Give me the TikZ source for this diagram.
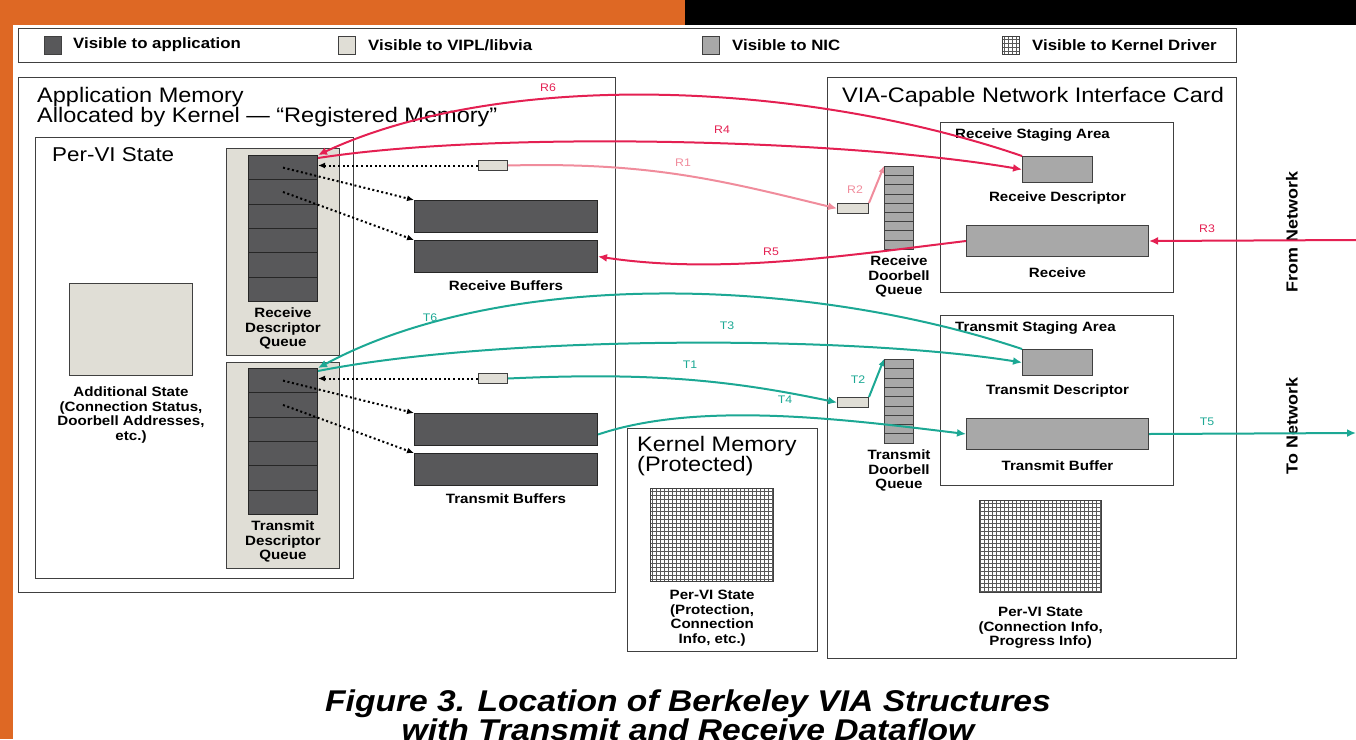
\documentclass[tikz,border=0pt]{standalone}
\usepackage{fontspec}
\setmainfont{Liberation Sans}[FakeStretch=1.12]
\usetikzlibrary{arrows.meta, positioning, patterns}
\definecolor{orng}{RGB}{222,104,36}
\definecolor{appgray}{RGB}{88,88,90}
\definecolor{viplgray}{RGB}{224,222,214}
\definecolor{nicgray}{RGB}{168,168,168}
\definecolor{rred}{RGB}{228,32,82}
\definecolor{rpink}{RGB}{240,140,156}
\definecolor{tteal}{RGB}{28,168,148}
\pgfdeclarepatternformonly{kgrid}{\pgfqpoint{-1pt}{-1pt}}{\pgfqpoint{5pt}{5pt}}{\pgfqpoint{4pt}{4pt}}{%
  \pgfsetlinewidth{0.9pt}%
  \pgfpathmoveto{\pgfqpoint{0pt}{0pt}}\pgfpathlineto{\pgfqpoint{0pt}{4pt}}%
  \pgfpathmoveto{\pgfqpoint{0pt}{0pt}}\pgfpathlineto{\pgfqpoint{4pt}{0pt}}%
  \pgfusepath{stroke}}

\begin{document}
\begin{tikzpicture}[x=1pt, y=-1pt,
  frame/.style={draw=black!75, line width=1.3pt, inner sep=0pt, anchor=north west},
  appbox/.style={frame, fill=appgray, draw=black!85, line width=1pt},
  viplbox/.style={frame, fill=viplgray, line width=1pt},
  nicbox/.style={frame, fill=nicgray, line width=1pt},
  kernbox/.style={frame, pattern=kgrid, pattern color=black!65},
  swatch/.style={draw=black!75, line width=1pt, minimum width=17pt, minimum height=18pt, inner sep=0pt},
  title/.style={font=\fontsize{21}{17}\selectfont, anchor=north west, align=left, inner sep=0pt},
  leg/.style={font=\bfseries\fontsize{15}{16}\selectfont, inner sep=0pt},
  lbl/.style={font=\bfseries\fontsize{13.5}{14.5}\selectfont, align=center, inner sep=0pt},
  tag/.style={font=\fontsize{11}{12}\selectfont, inner sep=1pt},
  flow/.style={line width=2pt, -{Latex[length=9pt,width=8pt]}},
  ptr/.style={line width=2pt, dash pattern=on 2pt off 2.6pt, -{Latex[length=7pt,width=6pt]}}]
\useasboundingbox (0,0) rectangle (1356,739);
\clip (0,0) rectangle (1356,739);
\fill[orng] (0,0) rectangle (685,25);
\fill[black] (685,0) rectangle (1356,25);
\fill[orng] (0,0) rectangle (13,739);

% legend
\node[frame, minimum width=1218pt, minimum height=34pt] (legend) at (18,28) {};
\node[swatch, fill=appgray] (kapp) at (53,45) {};
\node[leg, right=11pt of kapp] {Visible to application};
\node[swatch, fill=viplgray] (kvipl) at (347,45) {};
\node[leg, right=12pt of kvipl] {Visible to VIPL/libvia};
\node[swatch, fill=nicgray] (knic) at (711,45) {};
\node[leg, right=12pt of knic] {Visible to NIC};
\node[swatch, pattern=kgrid, pattern color=black!65] (kdrv) at (1011,45) {};
\node[leg, right=12pt of kdrv] {Visible to Kernel Driver};

% application memory
\node[frame, minimum width=597pt, minimum height=515pt] (appmem) at (18,77) {};
\node[title] (apptitle) at (37,87) {Application Memory\\Allocated by Kernel — “Registered Memory”};
\node[frame, minimum width=318pt, minimum height=441pt] (pervi) at (35,137) {};
\node[title, font=\fontsize{20}{20}\selectfont] at (52,147) {Per-VI State};
\node[viplbox, minimum width=113pt, minimum height=207pt] (rq) at (226,148) {};
\node[viplbox, minimum width=113pt, minimum height=206pt] (tq) at (226,362) {};
\foreach \i in {0,...,5} {
  \node[appbox, minimum width=69pt, minimum height=24.3pt] (rq\i) at (248,{155+24.3*\i}) {};
  \node[appbox, minimum width=69pt, minimum height=24.3pt] (tq\i) at (248,{368+24.3*\i}) {};
}
\node[lbl, below=6pt of rq5] {Receive\\Descriptor\\Queue};
\node[lbl, below=6pt of tq5] {Transmit\\Descriptor\\Queue};
\node[viplbox, minimum width=123pt, minimum height=92pt] (addst) at (69,283) {};
\node[lbl, below=11pt of addst] {Additional State\\(Connection Status,\\Doorbell Addresses,\\etc.)};
\node[appbox, minimum width=183pt, minimum height=32pt] (rb1) at (414,200) {};
\node[appbox, minimum width=183pt, minimum height=32pt] (rb2) at (414,240) {};
\node[lbl, below=8pt of rb2] {Receive Buffers};
\node[appbox, minimum width=183pt, minimum height=32pt] (tb1) at (414,413) {};
\node[appbox, minimum width=183pt, minimum height=32pt] (tb2) at (414,453) {};
\node[lbl, below=8pt of tb2] {Transmit Buffers};
\node[viplbox, minimum width=29pt, minimum height=10pt] (rtok) at (478,160) {};
\node[viplbox, minimum width=29pt, minimum height=10pt] (ttok) at (478,373) {};

% kernel memory
\node[frame, minimum width=190pt, minimum height=223pt] (kmem) at (627,428) {};
\node[title] at (637,436) {Kernel Memory\\(Protected)};
\node[kernbox, minimum width=123pt, minimum height=93pt] (kst) at (650,488) {};
\node[lbl, below=8pt of kst] {Per-VI State\\(Protection,\\Connection\\Info, etc.)};

% network interface card
\node[frame, minimum width=409pt, minimum height=581pt] (nic) at (827,77) {};
\node[title] at (842,87) {VIA-Capable Network Interface Card};
\node[frame, minimum width=233pt, minimum height=170pt] (rsa) at (940,122) {};
\node[lbl, anchor=north west] at (955,129) {Receive Staging Area};
\node[nicbox, minimum width=70pt, minimum height=26pt] (rdesc) at (1022,156) {};
\node[lbl, below=9pt of rdesc] {Receive Descriptor};
\node[nicbox, minimum width=182pt, minimum height=31pt] (rbuf) at (966,225) {};
\node[lbl, below=11pt of rbuf] {Receive};
\node[frame, minimum width=233pt, minimum height=170pt] (tsa) at (940,315) {};
\node[lbl, anchor=north west] at (955,322) {Transmit Staging Area};
\node[nicbox, minimum width=70pt, minimum height=26pt] (tdesc) at (1022,349) {};
\node[lbl, below=9pt of tdesc] {Transmit Descriptor};
\node[nicbox, minimum width=182pt, minimum height=31pt] (tbuf) at (966,418) {};
\node[lbl, below=11pt of tbuf] {Transmit Buffer};
\node[kernbox, minimum width=122pt, minimum height=92pt] (nst) at (979,500) {};
\node[lbl, below=14pt of nst] {Per-VI State\\(Connection Info,\\Progress Info)};
\foreach \i in {0,...,8} {
  \node[nicbox, minimum width=29pt, minimum height=9.2pt] (rdq\i) at (884,{166+9.2*\i}) {};
  \node[nicbox, minimum width=29pt, minimum height=9.3pt] (tdq\i) at (884,{359+9.3*\i}) {};
}
\node[lbl, below=6pt of rdq8] {Receive\\Doorbell\\Queue};
\node[lbl, below=6pt of tdq8] {Transmit\\Doorbell\\Queue};
\node[viplbox, minimum width=31pt, minimum height=10pt] (rntok) at (837,203) {};
\node[viplbox, minimum width=31pt, minimum height=10pt] (tntok) at (837,397) {};
\node[font=\bfseries\fontsize{16}{16}\selectfont, rotate=90] (fromnet) at (1292,232) {From Network};
\node[font=\bfseries\fontsize{16}{16}\selectfont, rotate=90] (tonet) at (1292,426) {To Network};
\coordinate (netin) at (1356,240);
\coordinate (netout) at (1356,433);

% pointers
\draw[ptr] (rtok.west) -- (rtok.west -| rq0.east);
\draw[ptr] (rq0.center) -- (rb1.north west);
\draw[ptr] (rq1.center) -- (rb2.north west);
\draw[ptr] (ttok.west) -- (ttok.west -| tq0.east);
\draw[ptr] (tq0.center) -- (tb1.north west);
\draw[ptr] (tq1.center) -- (tb2.north west);

% receive dataflow
\draw[flow, rred] (rdesc.north west) .. controls (800,80) and (500,70) .. (rq0.north east);
\draw[flow, rred] ([yshift=-3pt]rq0.north east) .. controls (500,130) and (850,140) .. (rdesc.west);
\draw[flow, rpink] (rtok.east) .. controls (650,162) and (720,180) .. (rntok.west);
\draw[flow, rpink, -{Latex[length=7pt,width=6pt]}] (rntok.north east) -- (rdq0.north west);
\draw[flow, rred] (netin) -- (rbuf.east);
\draw[flow, rred] (rbuf.west) .. controls (850,255) and (720,275) .. (rb2.east);
\node[tag, rred] (lr6) at (548,88) {R6};
\node[tag, rred] (lr4) at (722,130) {R4};
\node[tag, rpink] (lr1) at (683,163) {R1};
\node[tag, rpink] (lr2) at (855,190) {R2};
\node[tag, rred] (lr3) at (1207,229) {R3};
\node[tag, rred] (lr5) at (771,252) {R5};

% transmit dataflow
\draw[flow, tteal] (tdesc.north west) .. controls (800,275) and (500,270) .. (tq0.north east);
\draw[flow, tteal] ([yshift=-3pt]tq0.north east) .. controls (500,335) and (850,335) .. (tdesc.west);
\draw[flow, tteal] (ttok.east) .. controls (650,372) and (730,380) .. (tntok.west);
\draw[flow, tteal, -{Latex[length=7pt,width=6pt]}] (tntok.north east) -- (tdq0.north west);
\draw[flow, tteal] ([yshift=-5pt]tb1.east) .. controls (700,400) and (850,420) .. (tbuf.west);
\draw[flow, tteal] (tbuf.east) -- (netout);
\node[tag, tteal] (lt6) at (430,318) {T6};
\node[tag, tteal] (lt3) at (727,326) {T3};
\node[tag, tteal] (lt1) at (690,365) {T1};
\node[tag, tteal] (lt2) at (858,380) {T2};
\node[tag, tteal] (lt4) at (785,400) {T4};
\node[tag, tteal] (lt5) at (1207,422) {T5};

\node[font=\bfseries\itshape\fontsize{30}{27}\selectfont, align=center, inner sep=0pt, anchor=north] (caption) at (688,690) {Figure 3. Location of Berkeley VIA Structures\\with Transmit and Receive Dataflow};
\end{tikzpicture}
\end{document}
